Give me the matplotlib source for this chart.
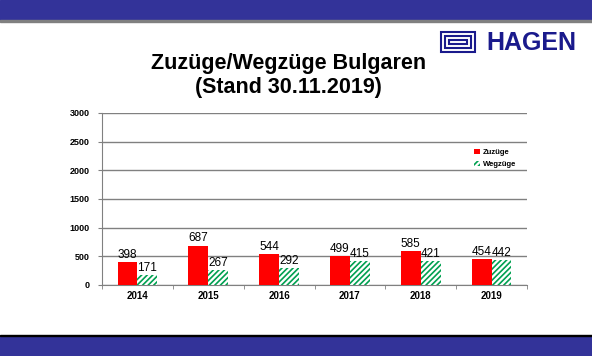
import numpy as np
import matplotlib.pyplot as plt
from matplotlib.patches import Rectangle

plt.rcParams['font.family'] = ['Liberation Sans', 'DejaVu Sans']
plt.rcParams['hatch.linewidth'] = 1.2

jahre = ['2014', '2015', '2016', '2017', '2018', '2019']
zuzuege = [398, 687, 544, 499, 585, 454]
wegzuege = [171, 267, 292, 415, 421, 442]

fig = plt.figure(figsize=(5.92, 3.56), dpi=100)
fig.patch.set_facecolor('white')

# Kopf- und Fussbalken
fig.add_artist(Rectangle((0, 1 - 20/356), 1, 20/356, transform=fig.transFigure, color='#333399'))
fig.add_artist(Rectangle((0, 1 - 21.5/356), 1, 1.5/356, transform=fig.transFigure, color='#808080'))
fig.add_artist(Rectangle((0, 0), 1, 20/356, transform=fig.transFigure, color='#333399'))
fig.add_artist(Rectangle((0, 20/356), 1, 1.2/356, transform=fig.transFigure, color='black'))

# Logo
fig.text(576/592, 1 - 43/356, 'HAGEN', ha='right', va='center', fontsize=18,
         fontweight='heavy', color='#1a1a8c')
lx, ly = 441/592, 1 - 52/356
for s in [0, 4, 8]:
    fig.add_artist(Rectangle((lx + s/592, ly + s/356), (34 - 2*s)/592, (20 - 2*s)/356,
                             transform=fig.transFigure, fill=False, ec='#1a1a8c', lw=1.5))

fig.text(289/592, 1 - 64/356, 'Zuzüge/Wegzüge Bulgaren', ha='center', va='center',
         fontsize=15.5, fontweight='bold')
fig.text(288/592, 1 - 88/356, '(Stand 30.11.2019)', ha='center', va='center',
         fontsize=15.5, fontweight='bold')

ax = fig.add_axes([102/592, 1 - 285/356, 425/592, 172/356])
x = np.arange(len(jahre))
b = 0.28
r1 = ax.bar(x - b/2, zuzuege, b, color='#ff0000', label='Zuzüge', zorder=3)
r2 = ax.bar(x + b/2, wegzuege, b, color='white', edgecolor='#00a050', hatch='//////',
            lw=0, label='Wegzüge', zorder=3)

for rect, v in zip(r1, zuzuege):
    ax.text(rect.get_x() + rect.get_width()/2, v + 20, str(v), ha='center', va='bottom', fontsize=8.5)
for rect, v in zip(r2, wegzuege):
    ax.text(rect.get_x() + rect.get_width()/2, v + 20, str(v), ha='center', va='bottom', fontsize=8.5)

ax.set_ylim(0, 3000)
ax.set_xlim(-0.5, len(jahre) - 0.5)
ax.set_yticks(range(0, 3001, 500))
ax.set_yticklabels([str(v) for v in range(0, 3001, 500)], fontsize=6.5, fontweight='heavy')
ax.yaxis.grid(True, color='#808080', lw=1, zorder=0)
ax.set_xticks(x)
ax.set_xticklabels(jahre, fontsize=7, fontweight='heavy')
ax.set_xticks(np.arange(-0.5, len(jahre)), minor=True)
ax.tick_params(axis='x', which='major', length=0, pad=4)
ax.tick_params(axis='x', which='minor', length=3, color='#808080')
ax.tick_params(axis='y', length=3, color='#808080', pad=6)
for s in ['top', 'right']:
    ax.spines[s].set_visible(False)
ax.spines['left'].set_color('#808080')
ax.spines['bottom'].set_color('#808080')

leg = ax.legend(loc='upper left', bbox_to_anchor=(0.86, 0.83), frameon=False,
                handlelength=0.7, handleheight=0.7, handletextpad=0.4, labelspacing=0.6,
                prop={'weight': 'bold', 'size': 5.5})

fig.savefig('out.png', dpi=100)
